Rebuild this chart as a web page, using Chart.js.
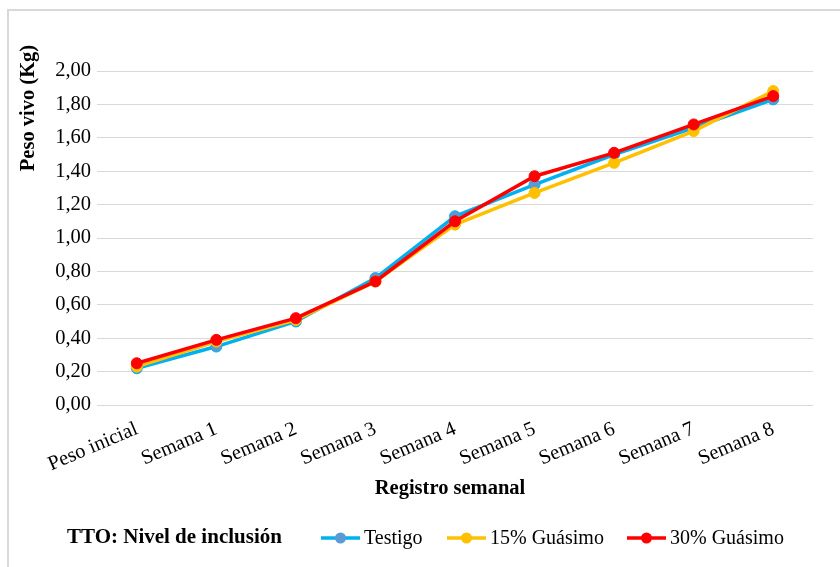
<!DOCTYPE html>
<html>
<head>
<meta charset="utf-8">
<script src="https://cdn.jsdelivr.net/npm/chart.js@4.4.1/dist/chart.umd.min.js"></script>
<style>
  html, body { margin: 0; padding: 0; background: #fff; }
  #wrap { width: 840px; height: 567px; position: relative; }
</style>
</head>
<body>
<div id="wrap"><canvas id="pesoChart" width="840" height="567"></canvas></div>
<script>
const semanas = ['Peso inicial', 'Semana 1', 'Semana 2', 'Semana 3', 'Semana 4',
    'Semana 5', 'Semana 6', 'Semana 7', 'Semana 8'];
const testigo = [0.22, 0.35, 0.50, 0.76, 1.13, 1.32, 1.50, 1.66, 1.83];
const guasimo15 = [0.23, 0.38, 0.51, 0.74, 1.08, 1.27, 1.45, 1.64, 1.88];
const guasimo30 = [0.25, 0.39, 0.52, 0.74, 1.10, 1.37, 1.51, 1.68, 1.85];
const yTicks = [0, 0.2, 0.4, 0.6, 0.8, 1.0, 1.2, 1.4, 1.6, 1.8, 2.0];

const serif = "'Liberation Serif', 'Times New Roman', serif";

function comma(v) {
    return v.toFixed(2).replace('.', ',');
}

// outer frame, axis titles, legend row with "TTO" caption
const frameAndLegend = {
    id: 'frameAndLegend',
    beforeDraw(chart) {
        const ctx = chart.ctx;
        ctx.save();
        ctx.strokeStyle = '#d9d9d9';
        ctx.lineWidth = 2;
        ctx.strokeRect(8, 10, 900, 700);
        ctx.restore();
    },
    afterDraw(chart) {
        const ctx = chart.ctx;
        ctx.save();
        ctx.fillStyle = '#000';
        ctx.textBaseline = 'middle';

        // y title sits high on the axis, not centred
        ctx.save();
        ctx.translate(29, 108);
        ctx.rotate(-Math.PI / 2);
        ctx.textAlign = 'center';
        ctx.font = 'bold 20.5px ' + serif;
        ctx.fillText('Peso vivo (Kg)', 0, 0);
        ctx.restore();

        ctx.save();
        ctx.textAlign = 'center';
        ctx.font = 'bold 20.5px ' + serif;
        ctx.fillText('Registro semanal', 450, 489);
        ctx.restore();

        const y = 538;
        ctx.font = 'bold 21px ' + serif;
        ctx.fillText('TTO: Nivel de inclusión', 67, y);
        ctx.font = '20px ' + serif;
        const starts = [321, 447, 627];
        const ds = chart.data.datasets;
        [0, 1, 2].forEach(function (i) {
            const d = ds[i];
            const x = starts[i];
            ctx.strokeStyle = d.borderColor;
            ctx.lineWidth = 3.5;
            ctx.beginPath();
            ctx.moveTo(x, y);
            ctx.lineTo(x + 39, y);
            ctx.stroke();
            ctx.beginPath();
            ctx.arc(x + 19.5, y, 5.5, 0, Math.PI * 2);
            ctx.fillStyle = d.pointBackgroundColor;
            ctx.fill();
            ctx.fillStyle = '#000';
            ctx.fillText(d.label, x + 43, y + 1);
        });
        ctx.restore();
    }
};

const ctx = document.getElementById('pesoChart').getContext('2d');
const pesoChart = new Chart(ctx, {
    type: 'line',
    data: {
        labels: semanas,
        datasets: [{
            label: 'Testigo',
            data: testigo,
            borderColor: '#00b0f0',
            pointBackgroundColor: '#5b9bd5',
            pointBorderColor: '#00b0f0',
            order: 2
        }, {
            label: '15% Guásimo',
            data: guasimo15,
            borderColor: '#ffc000',
            pointBackgroundColor: '#ffc000',
            pointBorderColor: '#ffc000',
            order: 1
        }, {
            label: '30% Guásimo',
            data: guasimo30,
            borderColor: '#ff0000',
            pointBackgroundColor: '#ff0000',
            pointBorderColor: '#ff0000',
            order: 0
        }]
    },
    options: {
        responsive: false,
        animation: false,
        events: [],
        elements: {
            line: { borderWidth: 3.5, tension: 0 },
            point: { radius: 5.5, borderWidth: 1 }
        },
        layout: {
            padding: { top: 71, left: 8, right: 27, bottom: 58 }
        },
        plugins: {
            legend: { display: false },
            tooltip: { enabled: false }
        },
        scales: {
            x: {
                offset: true,
                grid: { display: false, drawTicks: false },
                border: { display: false },
                ticks: {
                    color: '#000',
                    font: { family: serif, size: 20.5 },
                    minRotation: 23,
                    maxRotation: 23,
                    padding: 12,
                    autoSkip: false
                },
                afterFit(scale) { scale.height = 104; }
            },
            y: {
                min: 0,
                max: 2,
                afterBuildTicks(scale) {
                    scale.ticks = yTicks.map(v => ({ value: v }));
                },
                grid: { color: '#d9d9d9', lineWidth: 1, drawTicks: false },
                border: { display: false },
                ticks: {
                    color: '#000',
                    font: { family: serif, size: 20.5 },
                    padding: 6,
                    callback: v => comma(v)
                },
                afterFit(scale) { scale.width = 89; }
            }
        }
    },
    plugins: [frameAndLegend]
});
</script>
</body>
</html>
